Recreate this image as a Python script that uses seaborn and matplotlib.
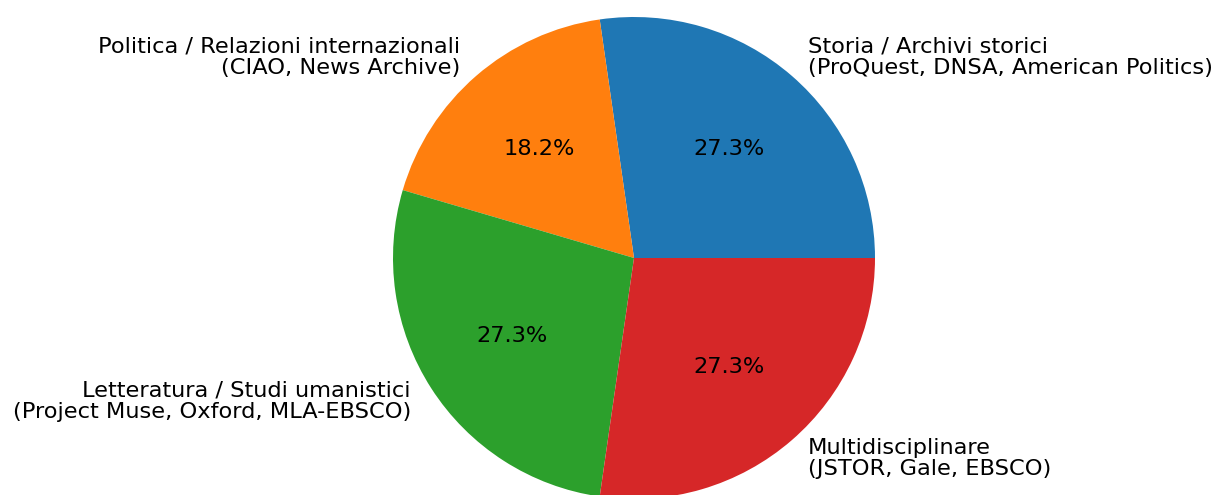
import matplotlib
matplotlib.use("Agg")
import matplotlib.pyplot as plt
import seaborn as sns

# dati
categorie = [
    "Storia / Archivi storici\n(ProQuest, DNSA, American Politics)",
    "Politica / Relazioni internazionali\n(CIAO, News Archive)",
    "Letteratura / Studi umanistici\n(Project Muse, Oxford, MLA-EBSCO)",
    "Multidisciplinare\n(JSTOR, Gale, EBSCO)",
]
conteggi = [3, 2, 3, 3]

sns.set_theme(style="white")
plt.rcParams['font.family'] = ['DejaVu Sans']

colori = sns.color_palette("tab10", len(conteggi))

W, H = 1217, 495
cx, cy, r = 634, 258, 241

fig = plt.figure(figsize=(W / 100, H / 100), dpi=100)
ax = fig.add_axes([(cx - r) / W, (H - cy - r) / H, 2 * r / W, 2 * r / H])

ax.pie(conteggi, labels=categorie, colors=colori, autopct='%1.1f%%',
       wedgeprops={'linewidth': 0},
       textprops={'fontsize': 16.2, 'color': 'black', 'linespacing': 1.1})
ax.set_xlim(-1, 1)
ax.set_ylim(-1, 1)
ax.set_aspect('equal')
ax.axis('off')

fig.savefig("out.png", dpi=100)
